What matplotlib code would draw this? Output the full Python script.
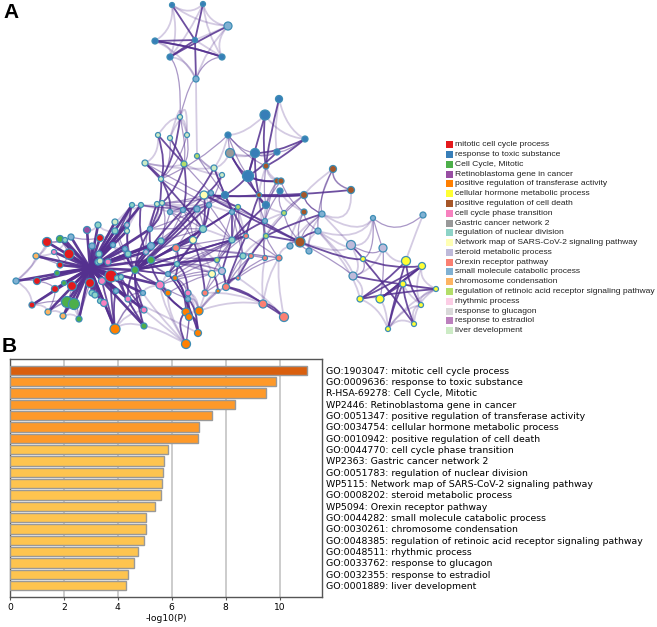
import matplotlib
matplotlib.use('Agg')
import matplotlib.pyplot as plt
from matplotlib.patches import PathPatch, Rectangle
from matplotlib.path import Path

# bar chart values
go_labels = ['GO:1903047: mitotic cell cycle process', 'GO:0009636: response to toxic substance',
             'R-HSA-69278: Cell Cycle, Mitotic', 'WP2446: Retinoblastoma gene in cancer',
             'GO:0051347: positive regulation of transferase activity', 'GO:0034754: cellular hormone metabolic process',
             'GO:0010942: positive regulation of cell death', 'GO:0044770: cell cycle phase transition',
             'WP2363: Gastric cancer network 2', 'GO:0051783: regulation of nuclear division',
             'WP5115: Network map of SARS-CoV-2 signaling pathway', 'GO:0008202: steroid metabolic process',
             'WP5094: Orexin receptor pathway', 'GO:0044282: small molecule catabolic process',
             'GO:0030261: chromosome condensation', 'GO:0048385: regulation of retinoic acid receptor signaling pathway',
             'GO:0048511: rhythmic process', 'GO:0033762: response to glucagon',
             'GO:0032355: response to estradiol', 'GO:0001889: liver development']
log_p = [11.03, 9.87, 9.48, 8.35, 7.5, 7.02, 6.97, 5.85, 5.71, 5.66,
         5.63, 5.60, 5.38, 5.06, 5.05, 4.98, 4.75, 4.60, 4.37, 4.29]
bar_colors = ['#d95f0e'] + ['#fe9929'] * 6 + ['#fec44f'] * 13

# legend of the network
legend_names = ['mitotic cell cycle process', 'response to toxic substance', 'Cell Cycle, Mitotic',
                'Retinoblastoma gene in cancer', 'positive regulation of transferase activity',
                'cellular hormone metabolic process', 'positive regulation of cell death',
                'cell cycle phase transition', 'Gastric cancer network 2', 'regulation of nuclear division',
                'Network map of SARS-CoV-2 signaling pathway', 'steroid metabolic process',
                'Orexin receptor pathway', 'small molecule catabolic process', 'chromosome condensation',
                'regulation of retinoic acid receptor signaling pathway', 'rhythmic process',
                'response to glucagon', 'response to estradiol', 'liver development']
group_colors = ['#e41a1c', '#377eb8', '#4daf4a', '#984ea3', '#ff7f00', '#ffff33', '#a65628', '#f781bf',
                '#999999', '#8dd3c7', '#ffffb3', '#bebada', '#fb8072', '#80b1d3', '#fdb462', '#b3de69',
                '#fccde5', '#d9d9d9', '#bc80bd', '#ccebc5']

# network nodes in pixels (last one is the unmarked hub)
node_x = [172, 203, 228, 155, 195, 170, 222, 196, 180, 158, 170, 187, 228, 279, 265, 305, 255, 230, 277, 197,
          145, 184, 214, 222, 248, 266, 333, 277, 281, 161, 351, 204, 225, 211, 259, 280, 304, 209, 238, 266,
          232, 284, 304, 322, 265, 318, 203, 266, 246, 232, 300, 290, 309, 351, 373, 423, 383, 406, 363, 422,
          353, 403, 436, 360, 380, 421, 414, 388, 243, 251, 265, 279, 217, 212, 222, 238, 226, 218, 205, 263,
          284, 199, 132, 141, 157, 162, 170, 183, 197, 115, 98, 87, 115, 127, 127, 150, 60, 71, 65, 47,
          100, 193, 161, 113, 92, 151, 176, 54, 69, 36, 99, 128, 146, 125, 98, 100, 108, 151, 60, 177,
          135, 57, 16, 37, 175, 168, 111, 117, 121, 102, 90, 64, 72, 55, 160, 143, 116, 188, 168, 92,
          95, 188, 100, 128, 104, 67, 74, 32, 144, 48, 63, 79, 186, 189, 144, 115, 198, 186, 90]
node_y = [5, 4, 26, 41, 40, 57, 57, 79, 117, 135, 138, 135, 135, 99, 115, 139, 153, 153, 152, 156,
          163, 164, 168, 175, 176, 166, 169, 181, 181, 179, 190, 195, 195, 193, 195, 191, 195, 205, 207, 205,
          212, 213, 212, 214, 221, 231, 229, 236, 236, 240, 242, 246, 251, 245, 218, 215, 248, 261, 259, 266,
          276, 284, 289, 299, 299, 305, 324, 329, 256, 256, 258, 258, 260, 274, 271, 278, 287, 291, 293, 304,
          317, 311, 205, 205, 204, 203, 212, 210, 209, 222, 225, 230, 231, 225, 231, 229, 239, 237, 240, 242,
          238, 240, 241, 245, 246, 246, 248, 252, 254, 256, 254, 254, 252, 249, 262, 261, 262, 260, 265, 264,
          270, 273, 281, 281, 278, 274, 276, 278, 277, 281, 283, 283, 286, 289, 285, 293, 291, 293, 293, 293,
          295, 299, 301, 299, 303, 302, 304, 305, 310, 312, 316, 319, 312, 317, 326, 329, 333, 344, 268]
node_size = [5, 5, 8, 6, 5, 6, 6, 6, 5, 5, 5, 5, 6, 7, 10, 6, 9, 9, 6, 5,
             6, 6, 6, 5, 11, 6, 7, 6, 6, 5, 7, 8, 7, 5, 5, 6, 7, 5, 5, 7,
             5, 5, 6, 6, 5, 6, 7, 5, 5, 6, 10, 6, 6, 9, 5, 6, 8, 9, 5, 7,
             8, 6, 5, 6, 8, 5, 5, 5, 6, 5, 5, 6, 5, 7, 7, 4, 7, 4, 6, 8,
             9, 8, 5, 5, 5, 5, 5, 5, 6, 6, 6, 7, 6, 5, 5, 5, 7, 6, 5, 9,
             7, 7, 6, 5, 6, 7, 7, 5, 10, 6, 6, 6, 5, 5, 6, 6, 6, 7, 6, 5,
             7, 5, 6, 7, 5, 5, 12, 5, 5, 7, 9, 5, 9, 7, 8, 5, 5, 6, 6, 6,
             6, 5, 5, 6, 7, 11, 11, 6, 6, 6, 6, 6, 8, 7, 6, 10, 7, 9, 0]
node_group = [1, 1, 13, 1, 1, 1, 1, 13, 19, 19, 19, 19, 1, 1, 1, 1, 1, 8, 1, 15,
              19, 15, 19, 19, 1, 6, 6, 6, 6, 19, 6, 10, 1, 13, 6, 1, 6, 13, 15, 1,
              13, 15, 6, 13, 13, 13, 9, 15, 12, 9, 6, 13, 13, 11, 13, 13, 11, 5, 5, 5,
              11, 5, 5, 5, 5, 5, 5, 5, 9, 12, 12, 12, 15, 10, 11, 12, 12, 4, 12, 12,
              12, 4, 9, 9, 19, 19, 13, 13, 13, 19, 9, 3, 9, 11, 19, 13, 2, 13, 9, 0,
              0, 10, 9, 13, 13, 13, 12, 7, 0, 14, 9, 9, 11, 13, 9, 19, 7, 2, 0, 9,
              2, 2, 13, 0, 4, 13, 0, 9, 9, 7, 0, 2, 0, 0, 7, 13, 13, 7, 4, 9,
              9, 13, 9, 7, 7, 2, 2, 0, 7, 14, 14, 2, 4, 4, 2, 4, 4, 4, 0]

# centres that the edges of each part of the network bow towards, and how hard
bundle_x = [195, 90, 232, 392]
bundle_y = [40, 268, 222, 288]
bundle_pull = [0.35, 0.12, 0.1, 0.3]

edges_hub = [
    (158, 120), (158, 126), (158, 127), (158, 128), (158, 113), (158, 111), (158, 116), (158, 114),
    (158, 115), (158, 110), (158, 104), (158, 103), (158, 100), (158, 91), (158, 90), (158, 92), (158, 89),
    (158, 99), (158, 108), (158, 109), (158, 107), (158, 118), (158, 123), (158, 122), (158, 121), (158, 133),
    (158, 131), (158, 132), (158, 130), (158, 129), (158, 139), (158, 140), (158, 142), (158, 144), (158, 136),
    (158, 143), (158, 145), (158, 146), (158, 147), (158, 149), (158, 150), (158, 151), (158, 96), (158, 97),
    (158, 98), (158, 155), (158, 148), (158, 154), (158, 82), (158, 83), (158, 93), (158, 94), (158, 95),
    (158, 102), (158, 105), (158, 112), (158, 117), (158, 134), (158, 135),
]
edges_strong = [
    (0, 4), (1, 4), (3, 4), (5, 4), (6, 3), (5, 2), (4, 7), (3, 6), (8, 29), (9, 21), (9, 29), (10, 21),
    (14, 24), (13, 25), (14, 25), (15, 16), (15, 25), (16, 24), (16, 34), (17, 34), (17, 24), (18, 24),
    (31, 36), (30, 34), (36, 34), (20, 29), (20, 46), (29, 95), (29, 86), (21, 87), (21, 85), (22, 87),
    (23, 31), (22, 32), (24, 32), (24, 39), (24, 27), (24, 28), (34, 39), (34, 31), (31, 46), (46, 120),
    (120, 125), (85, 95), (84, 105), (83, 112), (82, 111), (82, 103), (95, 120), (105, 120), (117, 120),
    (112, 120), (102, 120), (111, 120), (113, 120), (119, 120), (120, 134), (120, 135), (120, 143),
    (120, 154), (120, 148), (126, 120), (127, 154), (128, 148), (128, 143), (129, 155), (126, 155),
    (136, 155), (144, 155), (138, 152), (134, 152), (152, 157), (153, 156), (141, 156), (125, 156),
    (124, 152), (124, 153), (117, 138), (106, 124), (119, 137), (101, 78), (73, 77), (74, 76), (75, 76),
    (76, 79), (79, 80), (76, 80), (50, 58), (50, 31), (50, 47), (50, 38), (47, 75), (49, 74), (48, 76),
    (45, 50), (43, 47), (44, 49), (40, 49), (38, 46), (37, 46), (33, 38), (32, 48), (34, 48), (39, 49),
    (31, 120), (46, 125), (46, 106), (49, 120), (72, 120), (68, 120), (63, 62), (64, 59), (67, 61), (66, 58),
    (65, 57), (60, 62), (58, 59), (57, 63), (53, 58), (59, 64), (67, 57), (61, 64), (63, 59), (66, 61),
    (120, 88), (120, 101), (120, 87), (120, 37), (120, 48), (120, 38),
]
edges_mid = [
    (7, 6), (7, 8), (5, 8), (8, 21), (10, 29), (11, 29), (11, 21), (12, 29), (12, 24), (12, 17), (12, 16),
    (12, 25), (16, 18), (15, 18), (26, 43), (26, 45), (43, 50), (43, 36), (45, 42), (41, 50), (42, 50),
    (51, 50), (52, 50), (35, 41), (35, 44), (28, 42), (27, 44), (25, 39), (19, 32), (20, 31), (21, 33),
    (22, 40), (23, 37), (29, 37), (31, 38), (31, 44), (32, 40), (33, 46), (37, 49), (38, 49), (38, 68),
    (40, 68), (40, 72), (44, 47), (44, 70), (47, 70), (47, 71), (48, 71), (48, 72), (49, 73), (49, 72),
    (68, 76), (69, 76), (70, 76), (71, 75), (72, 76), (73, 78), (74, 78), (75, 78), (86, 101), (87, 101),
    (88, 106), (88, 120), (86, 105), (87, 117), (84, 112), (85, 102), (89, 120), (92, 120), (93, 120),
    (94, 120), (101, 119), (102, 112), (106, 125), (106, 117), (134, 141), (135, 155), (137, 152),
    (135, 143), (148, 154), (143, 154), (109, 118), (108, 118), (99, 108), (107, 118), (122, 123),
    (123, 133), (147, 133), (149, 145), (150, 146), (151, 146), (147, 145), (149, 133), (150, 132),
    (151, 130), (99, 97), (97, 100), (96, 108), (98, 108), (56, 64), (54, 56), (55, 54), (54, 58),
    (50, 60), (53, 56), (60, 58), (157, 141), (156, 125), (157, 137), (141, 124), (72, 117), (73, 117),
    (74, 119), (48, 106), (70, 106), (71, 106), (125, 117), (125, 120), (34, 44), (27, 39), (28, 39),
    (88, 46), (88, 49), (86, 46), (87, 46), (36, 47), (36, 41), (36, 43), (30, 26),
    (84, 88), (85, 87), (82, 88), (83, 87), (84, 32), (85, 33), (86, 31), (87, 32), (88, 32), (95, 46),
    (95, 88), (102, 46), (102, 88), (105, 88), (112, 101), (117, 101), (117, 46), (119, 46), (119, 48),
    (125, 48), (125, 49), (134, 49), (134, 73), (138, 73), (124, 72), (124, 74),
]
edges_light = [
    (0, 1), (1, 2), (0, 2), (2, 6), (3, 5), (3, 7), (5, 7), (2, 4), (0, 5), (1, 6), (1, 5), (0, 3),
    (7, 19), (2, 7), (6, 4), (13, 15), (14, 15), (13, 18), (14, 12), (17, 16), (17, 18), (17, 22), (12, 22),
    (19, 23), (19, 22), (9, 11), (10, 11), (9, 20), (20, 21), (20, 22), (21, 23), (8, 10), (8, 11),
    (53, 54), (45, 53), (45, 60), (45, 63), (60, 63), (53, 60), (65, 66), (66, 67), (65, 67), (59, 65),
    (59, 62), (61, 62), (61, 65), (62, 65), (56, 57), (55, 57), (54, 43), (53, 43), (54, 45), (56, 60),
    (64, 63), (64, 67), (66, 62), (67, 62), (59, 61), (63, 67), (50, 53), (30, 43), (26, 30), (26, 36),
    (79, 71), (79, 70), (80, 71), (79, 78), (78, 81), (79, 81), (76, 81), (80, 75), (51, 71), (52, 45),
    (51, 42), (51, 43), (52, 43), (138, 157), (134, 157), (148, 157), (154, 157), (135, 157), (143, 156),
    (81, 77), (81, 76), (81, 141), (81, 137), (81, 124), (81, 153), (152, 153), (156, 153), (156, 137),
    (155, 154), (155, 148), (155, 135), (89, 82), (89, 92), (90, 92), (91, 90), (93, 82), (93, 83),
    (94, 83), (95, 84), (95, 85), (93, 94), (82, 83), (83, 84), (84, 85), (85, 86), (86, 87), (87, 88),
    (88, 101), (31, 37), (33, 37), (31, 33), (40, 37), (101, 73), (101, 74), (102, 105), (102, 111),
    (103, 113), (111, 117), (105, 117), (112, 119), (134, 135), (134, 138), (125, 138), (125, 124),
    (135, 148), (143, 148), (136, 143), (142, 144), (139, 140), (145, 146), (145, 151), (145, 150),
    (145, 149), (146, 150), (147, 149), (122, 147), (122, 109), (122, 99), (109, 99), (99, 96), (96, 97),
    (98, 107), (149, 150), (150, 151), (107, 109), (117, 125), (117, 124), (119, 73), (119, 74), (46, 49),
    (47, 68), (47, 69), (38, 40), (38, 48), (48, 49), (68, 69), (69, 70), (70, 71), (69, 75), (68, 75),
    (34, 47), (39, 47), (39, 41), (41, 44), (41, 47), (35, 42), (27, 28), (25, 34), (25, 27), (25, 28),
    (100, 92), (101, 125), (102, 120), (103, 120), (88, 37), (86, 37), (87, 37), (84, 37), (83, 86),
]

# layout in pixels of the reference
FIG_W, FIG_H = 657, 627
BAR_BOX = [10, 359, 322, 597]

fig = plt.figure(figsize=(FIG_W / 100, FIG_H / 100), dpi=100)

# pixel canvas for the network, the legend and the panel letters
canvas = fig.add_axes([0, 0, 1, 1])
canvas.set_xlim(0, FIG_W)
canvas.set_ylim(FIG_H, 0)
canvas.axis('off')


def bowed_path(a, b):
    # curve from node a to node b, bent towards the nearest bundle centre
    x0, y0 = node_x[a], node_y[a]
    x1, y1 = node_x[b], node_y[b]
    mx, my = (x0 + x1) / 2, (y0 + y1) / 2
    dist = [(mx - cx) ** 2 + (my - cy) ** 2 for cx, cy in zip(bundle_x, bundle_y)]
    k = dist.index(min(dist))
    cx = mx + bundle_pull[k] * (bundle_x[k] - mx)
    cy = my + bundle_pull[k] * (bundle_y[k] - my)
    return Path([(x0, y0), (cx, cy), (x1, y1)], [Path.MOVETO, Path.CURVE3, Path.CURVE3])


for edges, lw, alpha in [(edges_light, 1.3, 0.25), (edges_mid, 0.9, 0.5), (edges_strong, 1.3, 0.85),
                         (edges_hub, 1.9, 0.95)]:
    for a, b in edges:
        canvas.add_patch(PathPatch(bowed_path(a, b), fill=False, edgecolor='#54308f', lw=lw, alpha=alpha,
                                   capstyle='round'))

canvas.scatter(node_x, node_y, s=[(d * 0.72) ** 2 for d in node_size],
               c=[group_colors[g] for g in node_group], edgecolors='#3d8db5', linewidths=0.9, zorder=3)

# legend
for i, (name, color) in enumerate(zip(legend_names, group_colors)):
    y = 144.7 + i * 9.79
    canvas.add_patch(Rectangle((446, y - 3.5), 7, 7, facecolor=color, edgecolor='none'))
    canvas.text(455, y, name, fontsize=6.1, family='Liberation Sans', va='center', ha='left', color='#222222')

canvas.text(3, 13, 'A', fontsize=15, fontweight='bold', family='Liberation Sans', va='center')
canvas.text(2, 346, 'B', fontsize=15, fontweight='bold', family='Liberation Sans', va='center')

# bar chart
left, top, right, bottom = BAR_BOX
ax = fig.add_axes([left / FIG_W, 1 - bottom / FIG_H, (right - left) / FIG_W, (bottom - top) / FIG_H])
ax.barh(range(len(log_p)), log_p, height=0.82, color=bar_colors, edgecolor='#999999', linewidth=1, zorder=3)
ax.set_xlim(0, 11.57)
ax.set_ylim(20, -1)
ax.set_xticks([0, 2, 4, 6, 8, 10])
ax.grid(axis='x', color='#c4c4c4', linewidth=1.2, zorder=0)
ax.yaxis.tick_right()
ax.set_yticks(range(len(go_labels)))
ax.set_yticklabels(go_labels)
ax.tick_params(axis='y', length=0, pad=3, labelsize=6.73)
ax.tick_params(axis='x', length=2.5, pad=2, labelsize=6.6, color='#555555')
ax.set_xlabel('-log10(P)', fontsize=6.6, labelpad=1.5)
for spine in ax.spines.values():
    spine.set_color('#555555')
    spine.set_linewidth(1)

fig.savefig('out.png', dpi=100)
